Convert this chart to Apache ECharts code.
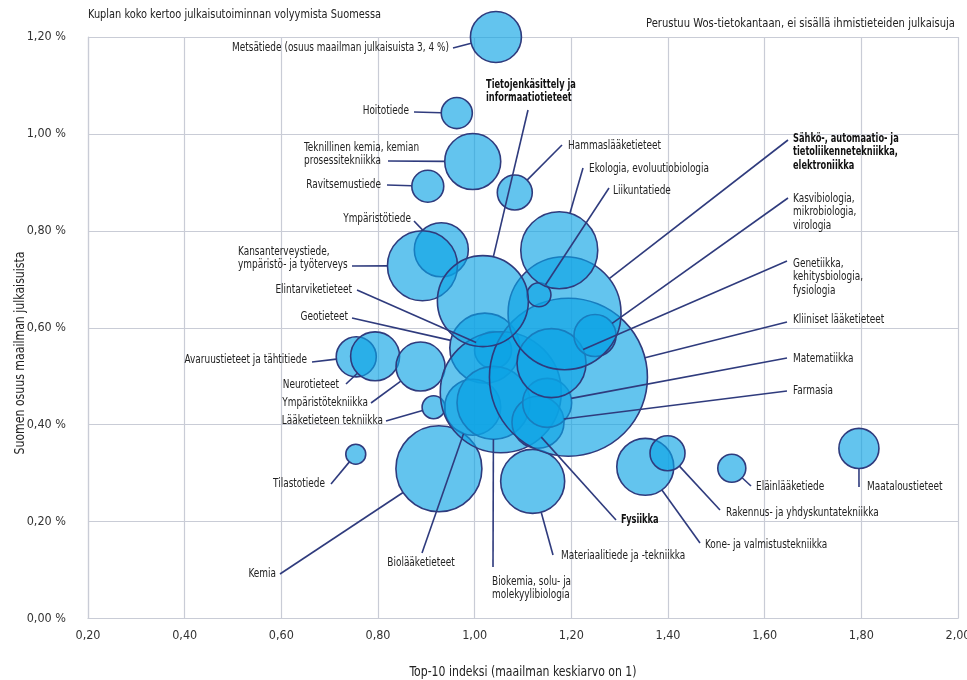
<!DOCTYPE html>
<html>
<head>
<meta charset="utf-8">
<script src="https://cdn.jsdelivr.net/npm/echarts@6/dist/echarts.min.js"></script>
<style>
html,body{margin:0;padding:0;background:#ffffff;}
#chart{width:967px;height:680px;}
</style>
</head>
<body>
<div id="chart"></div>
<script>
// ---------------- DATA ----------------
const fieldNames = [
  'Metsätiede (osuus maailman julkaisuista 3, 4 %)',
  'Hoitotiede',
  'Teknillinen kemia, kemian\nprosessitekniikka',
  'Ravitsemustiede',
  'Ympäristötiede',
  'Kansanterveystiede,\nympäristö- ja työterveys',
  'Elintarviketieteet',
  'Geotieteet',
  'Avaruustieteet ja tähtitiede',
  'Neurotieteet',
  'Ympäristötekniikka',
  'Lääketieteen tekniikka',
  'Tilastotiede',
  'Kemia',
  'Biolääketieteet',
  'Biokemia, solu- ja\nmolekyylibiologia',
  'Materiaalitiede ja -tekniikka',
  'Fysiikka',
  'Kone- ja valmistustekniikka',
  'Rakennus- ja yhdyskuntatekniikka',
  'Eläinlääketiede',
  'Maataloustieteet',
  'Farmasia',
  'Matematiikka',
  'Kliiniset lääketieteet',
  'Genetiikka,\nkehitysbiologia,\nfysiologia',
  'Kasvibiologia,\nmikrobiologia,\nvirologia',
  'Sähkö-, automaatio- ja\ntietoliikennetekniikka,\nelektroniikka',
  'Liikuntatiede',
  'Ekologia, evoluutiobiologia',
  'Hammaslääketieteet',
  'Tietojenkäsittely ja\ninformaatiotieteet'
];

// Top-10 index (world average = 1)
const top10Index = [
  1.044, 0.963, 0.996, 0.903, 0.931, 0.892, 1.038, 1.021,
  0.755, 0.794, 0.888, 0.915, 0.754, 0.926, 0.996, 1.039,
  1.120, 1.054, 1.353, 1.399, 1.532, 1.795, 1.131, 1.150,
  1.194, 1.159, 1.249, 1.186, 1.133, 1.175, 1.083, 1.017
];

// Finland's share of world publications (%)
const worldShare = [
  1.200, 1.043, 0.943, 0.892, 0.761, 0.728, 0.554, 0.558,
  0.540, 0.541, 0.520, 0.436, 0.339, 0.309, 0.436, 0.445,
  0.283, 0.467, 0.313, 0.341, 0.310, 0.351, 0.405, 0.445,
  0.498, 0.527, 0.584, 0.630, 0.668, 0.760, 0.879, 0.655
];

// Publication volume in Finland (relative, bubble area)
const volume = [
  3210, 1190, 3870, 1260, 3600, 6050, 1690, 6050,
  1980, 2960, 2960, 650, 490, 9130, 3870, 6580,
  5060, 18080, 4010, 1510, 970, 1980, 3340, 2960,
  30820, 5880, 2180, 15760, 710, 7320, 1510, 10220
];

const boldFields = [
  'Fysiikka',
  'Sähkö-, automaatio- ja\ntietoliikennetekniikka,\nelektroniikka',
  'Tietojenkäsittely ja\ninformaatiotieteet'
];

const xTicks = [0.2, 0.4, 0.6, 0.8, 1.0, 1.2, 1.4, 1.6, 1.8, 2.0];
const yTicks = [0.0, 0.2, 0.4, 0.6, 0.8, 1.0, 1.2];

const titleText = 'Kuplan koko kertoo julkaisutoiminnan volyymista Suomessa';
const sourceText = 'Perustuu Wos-tietokantaan, ei sisällä ihmistieteiden julkaisuja';
const xAxisName = 'Top-10 indeksi (maailman keskiarvo on 1)';
const yAxisName = 'Suomen osuus maailman julkaisuista';

// ---------------- LAYOUT (label placement, pixels) ----------------
// [textX, textY, align, lineStartX, lineStartY]
const labelPlacement = [
  [449, 48, 'right', 453, 48],
  [409, 111, 'right', 414, 112],
  [304, 154, 'left', 388, 161],
  [381, 185, 'right', 387, 185],
  [411, 219, 'right', 414, 221],
  [238, 258, 'left', 352, 266],
  [352, 290, 'right', 357, 290],
  [348, 317, 'right', 352, 318],
  [307, 360, 'right', 312, 362],
  [339, 385, 'right', 346, 384],
  [368, 403, 'right', 371, 403],
  [383, 421, 'right', 386, 421],
  [325, 484, 'right', 331, 484],
  [276, 574, 'right', 280, 574],
  [421, 563, 'center', 422, 553],
  [492, 588, 'left', 493, 567],
  [561, 556, 'left', 553, 555],
  [621, 520, 'left', 616, 520],
  [705, 545, 'left', 700, 543],
  [726, 513, 'left', 720, 510],
  [756, 487, 'left', 751, 486],
  [867, 487, 'left', 859, 487],
  [793, 391, 'left', 787, 391],
  [793, 359, 'left', 787, 358],
  [793, 320, 'left', 787, 322],
  [793, 277, 'left', 787, 261],
  [793, 212, 'left', 788, 198],
  [793, 152, 'left', 788, 140],
  [613, 191, 'left', 609, 188],
  [589, 169, 'left', 583, 168],
  [568, 146, 'left', 562, 145],
  [486, 91, 'left', 528, 110]
];

// ---------------- FONT (pick a narrow installed face, condense to reference widths) ----------------
const ctx = document.createElement('canvas').getContext('2d');
function fontAvailable(name) {
  const t = 'mmmmmmmmmmlliiWWQq0123456789';
  for (const base of ['monospace', 'serif']) {
    ctx.font = '40px ' + base; const a = ctx.measureText(t).width;
    ctx.font = "40px '" + name + "', " + base; const b = ctx.measureText(t).width;
    if (Math.abs(a - b) > 0.5) return true;
  }
  return false;
}
const fontCandidates = ['Liberation Sans Narrow', 'DejaVu Sans Condensed', 'Roboto Condensed', 'Noto Sans Condensed', 'Open Sans Condensed', 'Liberation Sans', 'Roboto'];
const chosenFont = fontCandidates.find(fontAvailable) || 'sans-serif';
const FONT = "'" + chosenFont + "', sans-serif";
function textWidth(text, size, weight) {
  ctx.font = (weight || 'normal') + ' ' + size + 'px ' + FONT;
  return Math.max.apply(null, text.split('\n').map(l => ctx.measureText(l).width));
}
const LABEL_SIZE = 12.5;
const LABEL_SCALE = Math.min(1, 217 / textWidth(fieldNames[0], LABEL_SIZE));
const BOLD_SCALE = Math.min(1, 105 / textWidth('tietoliikennetekniikka,', LABEL_SIZE, 'bold'));

// ---------------- STYLE ----------------
const FILL = 'rgba(11,162,229,0.64)';
const NAVY = '#2f3b7d';
const GRIDC = '#c9ccd6';
const TEXTC = '#222222';
const SIZE_K = 0.9;
function bubbleDiameter(v) { return SIZE_K * Math.sqrt(v); }
function fmt(v) { return v.toFixed(2).replace('.', ','); }

function condensedText(text, x, y, align, size, target, rotation) {
  const s = Math.min(1, target / textWidth(text, size));
  return {
    type: 'text', x: x, y: y, rotation: rotation || 0, scaleX: s, silent: true,
    style: { text: text, x: 0, y: 0, align: align, verticalAlign: 'middle', fontFamily: FONT, fontSize: size, fill: TEXTC }
  };
}

const seriesData = fieldNames.map((n, i) => [top10Index[i], worldShare[i], volume[i], n]);

const chart = echarts.init(document.getElementById('chart'), null, { renderer: 'canvas' });

const option = {
  animation: false,
  backgroundColor: '#ffffff',
  textStyle: { fontFamily: FONT },
  grid: { left: 88, right: 9, top: 37, bottom: 61.5, containLabel: false, outerBoundsMode: 'none' },
  xAxis: {
    type: 'value',
    min: xTicks[0], max: xTicks[xTicks.length - 1], interval: 0.2,
    axisLine: { show: true, lineStyle: { color: GRIDC, width: 1.2 } },
    axisTick: { show: false },
    axisLabel: { formatter: fmt, margin: 11, fontFamily: FONT, fontSize: 12.5, color: '#333' },
    splitLine: { show: true, lineStyle: { color: GRIDC, width: 1.2 } }
  },
  yAxis: {
    type: 'value',
    min: yTicks[0], max: yTicks[yTicks.length - 1], interval: 0.2,
    axisLine: { show: true, lineStyle: { color: GRIDC, width: 1.2 } },
    axisTick: { show: false },
    axisLabel: { formatter: v => fmt(v) + ' %', margin: 22, fontFamily: FONT, fontSize: 12.5, color: '#333' },
    splitLine: { show: true, lineStyle: { color: GRIDC, width: 1.2 } }
  },
  graphic: [
    condensedText(titleText, 88, 15, 'left', 13, 293),
    condensedText(sourceText, 955, 24, 'right', 13, 309),
    condensedText(xAxisName, 523, 672, 'center', 13.5, 227),
    condensedText(yAxisName, 20, 353, 'center', 13.5, 203, Math.PI / 2)
  ],
  series: [
    {
      type: 'scatter',
      data: seriesData,
      clip: false,
      z: 2,
      symbol: 'circle',
      symbolSize: v => bubbleDiameter(v[2]),
      itemStyle: { color: FILL, borderColor: NAVY, borderWidth: 1.6, opacity: 1 },
      emphasis: { disabled: true },
      silent: true
    },
    {
      type: 'custom',
      data: seriesData,
      clip: false,
      z: 5,
      silent: true,
      renderItem: function (params, api) {
        const i = params.dataIndex;
        const c = api.coord([api.value(0), api.value(1)]);
        const r = bubbleDiameter(api.value(2)) / 2;
        const p = labelPlacement[i];
        const dx = p[3] - c[0], dy = p[4] - c[1];
        const d = Math.sqrt(dx * dx + dy * dy) || 1;
        const ex = c[0] + dx / d * r, ey = c[1] + dy / d * r;
        const name = fieldNames[i];
        const bold = boldFields.indexOf(name) >= 0;
        return {
          type: 'group',
          children: [
            { type: 'line', shape: { x1: p[3], y1: p[4], x2: ex, y2: ey }, style: { stroke: NAVY, lineWidth: 1.6 } },
            { type: 'text', x: p[0], y: p[1], scaleX: bold ? BOLD_SCALE : LABEL_SCALE,
              style: { text: name, x: 0, y: 0, align: p[2], verticalAlign: 'middle', fontFamily: FONT, fontSize: LABEL_SIZE, lineHeight: 13.5, fontWeight: bold ? 'bold' : 'normal', fill: bold ? '#111' : TEXTC } }
          ]
        };
      }
    }
  ]
};

chart.setOption(option);
</script>
</body>
</html>
